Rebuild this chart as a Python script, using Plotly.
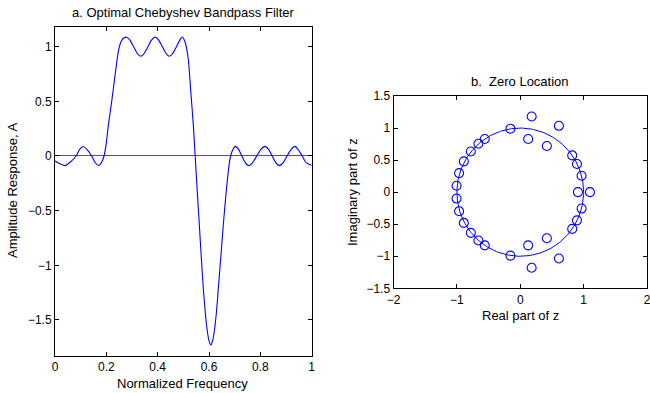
import numpy as np
import plotly.graph_objects as go

# ---- (a) amplitude response of the optimal Chebyshev bandpass filter ----
freq = [0.000, 0.020, 0.039, 0.060, 0.082, 0.096, 0.110, 0.126, 0.143, 0.157,
        0.171, 0.182, 0.191, 0.200, 0.208, 0.221, 0.234, 0.247, 0.258, 0.268,
        0.279, 0.292, 0.306, 0.320, 0.334, 0.348, 0.362, 0.376, 0.390, 0.404,
        0.418, 0.432, 0.445, 0.459, 0.473, 0.486, 0.496, 0.507, 0.519, 0.529,
        0.539, 0.546, 0.554, 0.562, 0.570, 0.578, 0.585, 0.591, 0.599, 0.607,
        0.615, 0.623, 0.630, 0.636, 0.646, 0.656, 0.668, 0.679, 0.684, 0.693,
        0.703, 0.715, 0.728, 0.741, 0.755, 0.770, 0.786, 0.802, 0.818, 0.832,
        0.846, 0.860, 0.874, 0.889, 0.904, 0.920, 0.935, 0.950, 0.963, 0.978,
        1.000]
amplitude = [-0.046, -0.072, -0.088, -0.055, 0.000, 0.060, 0.087, 0.055, 0.000, -0.062,
             -0.088, -0.055, 0.000, 0.120, 0.284, 0.500, 0.740, 0.960, 1.050, 1.080,
             1.087, 1.060, 1.000, 0.940, 0.912, 0.940, 1.000, 1.060, 1.088, 1.060,
             1.000, 0.940, 0.912, 0.940, 1.000, 1.060, 1.088, 1.040, 0.890, 0.590,
             0.280, 0.000, -0.310, -0.620, -0.930, -1.220, -1.420, -1.560, -1.680, -1.730,
             -1.680, -1.560, -1.400, -1.220, -0.920, -0.620, -0.300, -0.067, 0.000, 0.060,
             0.088, 0.060, 0.000, -0.060, -0.088, -0.060, 0.000, 0.060, 0.088, 0.060,
             0.000, -0.060, -0.088, -0.060, 0.000, 0.060, 0.088, 0.050, 0.000, -0.060,
             -0.085]

# ---- (b) zero locations in the z-plane ----
zero_re = [0.180, 0.610, -0.155, 0.125, 0.420, -0.560, -0.660, -0.780, -0.890, -0.965,
           -1.005, 0.820, 0.895, 0.968,
           0.910, 1.100,
           0.180, 0.610, -0.155, 0.125, 0.420, -0.560, -0.660, -0.780, -0.890, -0.965,
           -1.005, 0.820, 0.895, 0.968]
zero_im = [1.180, 1.035, 0.990, 0.830, 0.720, 0.830, 0.755, 0.635, 0.480, 0.297,
           0.100, 0.573, 0.440, 0.256,
           0.000, 0.000,
           -1.180, -1.035, -0.990, -0.830, -0.720, -0.830, -0.755, -0.635, -0.480, -0.297,
           -0.100, -0.573, -0.440, -0.256]

# unit circle for reference
unit_radius = 1.0
theta = np.linspace(0, 2 * np.pi, 361)
circle_x = unit_radius * np.cos(theta)
circle_y = unit_radius * np.sin(theta)

W, H = 650, 393
BLUE = "#0000ff"
FONT = "Liberation Sans, Arial, Helvetica, sans-serif"


def px_x(p):
    return p / W


def px_y(p):
    return 1 - p / H


fig = go.Figure()

fig.add_trace(go.Scatter(x=freq, y=amplitude, mode="lines",
                         line=dict(color=BLUE, width=1.1, shape="spline", smoothing=0.6),
                         xaxis="x", yaxis="y", showlegend=False, hoverinfo="skip"))

fig.add_trace(go.Scatter(x=circle_x, y=circle_y, mode="lines",
                         line=dict(color=BLUE, width=1),
                         xaxis="x2", yaxis="y2", showlegend=False, hoverinfo="skip"))
fig.add_trace(go.Scatter(x=zero_re, y=zero_im, mode="markers",
                         marker=dict(symbol="circle-open", size=9,
                                     color=BLUE, line=dict(color=BLUE, width=1.1)),
                         xaxis="x2", yaxis="y2", showlegend=False, hoverinfo="skip"))

axis_common = dict(showline=True, linecolor="black", linewidth=1, mirror="ticks",
                   ticks="inside", ticklen=4, tickwidth=1, tickcolor="black",
                   showgrid=False, automargin=False, ticklabeloverflow="allow",
                   tickfont=dict(family=FONT, size=12, color="black"))

fig.update_layout(
    width=W, height=H,
    margin=dict(l=0, r=0, t=0, b=0, pad=0, autoexpand=False),
    paper_bgcolor="white", plot_bgcolor="white",
    font=dict(family=FONT, size=12, color="black"),
    xaxis=dict(domain=[px_x(55), px_x(311.7)], range=[0, 1],
               tickvals=[0, 0.2, 0.4, 0.6, 0.8, 1], zeroline=False,
               anchor="y", **axis_common),
    yaxis=dict(domain=[px_y(355.7), px_y(27)], range=[-1.827, 1.18],
               tickvals=[-1.5, -1, -0.5, 0, 0.5, 1],
               zeroline=True, zerolinecolor="#6e4a6e", zerolinewidth=1,
               anchor="x", **axis_common),
    xaxis2=dict(domain=[px_x(393.5), px_x(647)], range=[-2, 2],
                tickvals=[-2, -1, 0, 1, 2], zeroline=False,
                anchor="y2", **axis_common),
    yaxis2=dict(domain=[px_y(288.3), px_y(96)], range=[-1.5, 1.5],
                tickvals=[-1.5, -1, -0.5, 0, 0.5, 1, 1.5], zeroline=False,
                anchor="x2", **axis_common),
)

labels = [
    ("a. Optimal Chebyshev Bandpass Filter", 183, 12, 0),
    ("Normalized Frequency", 183, 383, 0),
    ("Amplitude Response, A", 13, 191, -90),
    ("b.  Zero Location", 520, 81, 0),
    ("Real part of z", 520, 315, 0),
    ("Imaginary part of z", 353, 192, -90),
]
for text, x, y, ang in labels:
    fig.add_annotation(text=text, x=px_x(x), y=px_y(y), xref="paper", yref="paper",
                       xanchor="center", yanchor="middle", showarrow=False,
                       textangle=ang, font=dict(family=FONT, size=13, color="black"))

fig.write_html("out.html")
